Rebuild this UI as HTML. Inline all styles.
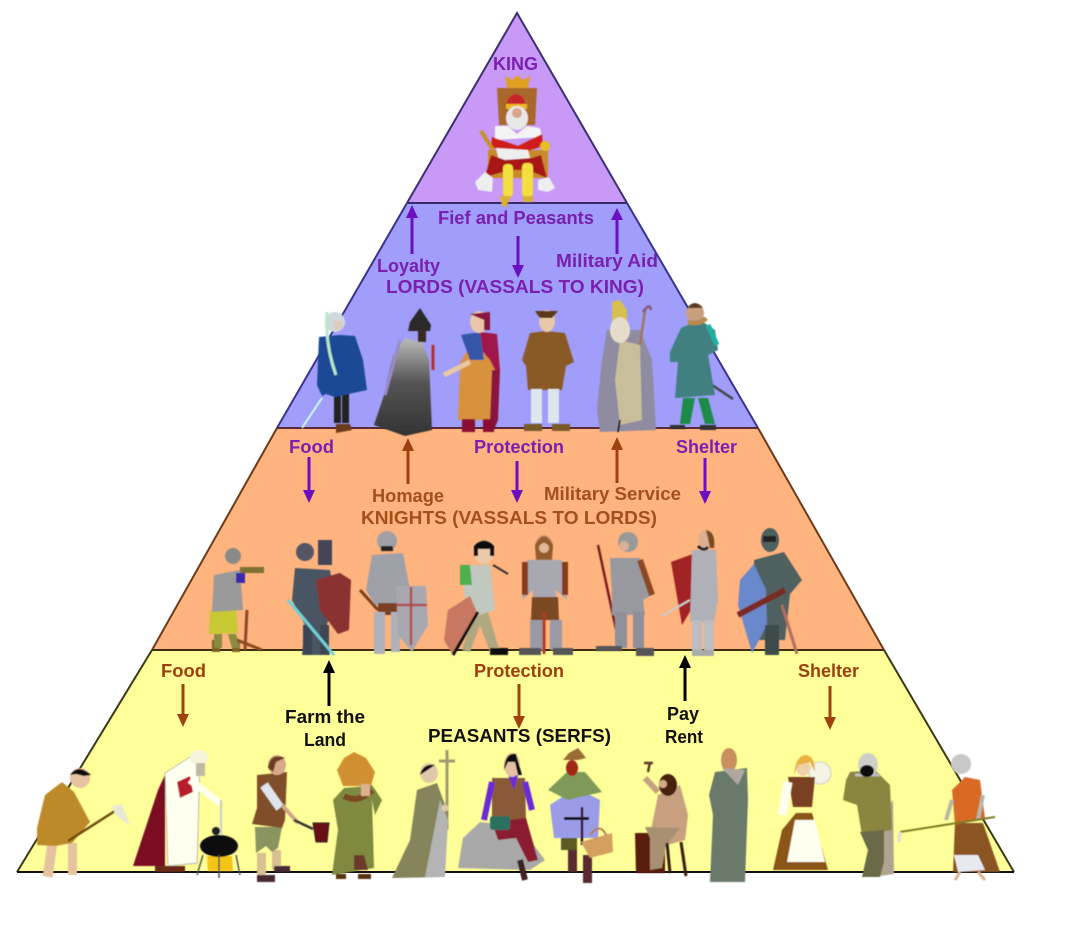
<!DOCTYPE html>
<html><head><meta charset="utf-8"><style>
html,body{margin:0;padding:0;background:#fff;width:1080px;height:942px;overflow:hidden}
svg{display:block}
text{font-family:"Liberation Sans",sans-serif;font-weight:bold;font-size:18px}
.p{fill:#7a1fb0}.b{fill:#a4501c}.r{fill:#9c400f}.k{fill:#111}
</style></head><body>
<svg width="1080" height="942" viewBox="0 0 1080 942" xmlns="http://www.w3.org/2000/svg">
<defs>
<filter id="s" x="-5%" y="-5%" width="110%" height="110%"><feGaussianBlur stdDeviation="0.5"/></filter>
<linearGradient id="mg" x1="0" y1="0" x2="0" y2="1"><stop offset="0" stop-color="#bbb"/><stop offset=".45" stop-color="#555"/><stop offset="1" stop-color="#333"/></linearGradient>
</defs>
<!-- tiers -->
<polygon points="517,13 627,203 407,203" fill="#c899f6"/>
<polygon points="407,203 627,203 758,428 277,428" fill="#a09dfb"/>
<polygon points="277,428 758,428 884,650 152,650" fill="#ffb37e"/>
<polygon points="152,650 884,650 1014,872 17,872" fill="#ffff99"/>
<g fill="none" stroke-width="2">
<path d="M407,203L517,13L627,203" stroke="#3d3070"/>
<path d="M407,203H627" stroke="#352a6a"/>
<path d="M407,203L277,428M627,203L758,428" stroke="#3a3490"/>
<path d="M277,428H758" stroke="#5a2a3a"/>
<path d="M277,428L152,650M758,428L884,650" stroke="#6b3c1a"/>
<path d="M152,650H884" stroke="#3a3010"/>
<path d="M152,650L17,872M884,650L1014,872" stroke="#3a3a18"/>
<path d="M17,872H1014" stroke="#111"/>
</g>
<!-- arrows -->
<g stroke-width="3" fill="none" stroke="#6a10c0">
<path d="M412,216V254M518,236V268M617,218V254M309,457V493M517,461V493M705,458V494"/>
</g>
<g fill="#6a10c0">
<polygon points="412,205 406,218 418,218"/><polygon points="518,278 512,265 524,265"/><polygon points="617,208 611,220 623,220"/>
<polygon points="309,503 303,490 315,490"/><polygon points="517,503 511,490 523,490"/><polygon points="705,504 699,491 711,491"/>
</g>
<g stroke-width="3" fill="none" stroke="#a0420f">
<path d="M408,450V484M617,449V483M183,684V717M519,684V719M830,686V720"/>
</g>
<g fill="#a0420f">
<polygon points="408,438 402,451 414,451"/><polygon points="617,437 611,450 623,450"/>
<polygon points="183,727 177,714 189,714"/><polygon points="519,729 513,716 525,716"/><polygon points="830,730 824,717 836,717"/>
</g>
<path d="M329,672V706M685,667V701" stroke="#000" stroke-width="3"/>
<polygon points="329,660 323,673 335,673" fill="#000"/><polygon points="685,655 679,668 691,668" fill="#000"/>

<g filter="url(#s)">
<!-- KING -->
<polygon points="497,88 537,88 535,125 499,125" fill="#a8682a"/>
<polygon points="505,76 512,80 517,75 523,80 530,76 528,88 507,88" fill="#e0a020"/>
<polygon points="488,150 548,150 548,178 488,178" fill="#c98a2c"/>
<path d="M516,94q-9,1,-10,14h20q-1,-13,-10,-14z" fill="#c8202a"/>
<rect x="506" y="104" width="21" height="5" fill="#f0b820"/>
<ellipse cx="517" cy="118" rx="11" ry="12" fill="#e8e8e8"/><circle cx="517" cy="113" r="5" fill="#d9a58c"/>
<polygon points="495,126 508,126 517,134 527,126 540,128 542,137 495,140" fill="#f4f4f4"/>
<polygon points="492,137 518,146 542,134 543,146 525,152 498,150 491,146" fill="#cf1f1f"/>
<polygon points="496,148 528,150 532,165 500,165" fill="#eee"/>
<polygon points="491,155 505,160 532,158 541,155 547,178 528,170 510,170 485,177" fill="#a81818"/>
<rect x="503" y="164" width="10" height="33" rx="4" fill="#f3e040"/><rect x="522" y="163" width="11" height="34" rx="4" fill="#f3e040"/>
<polygon points="475,182 485,172 493,178 492,192 478,190" fill="#eee"/><polygon points="538,180 549,177 555,188 548,192 538,190" fill="#eee"/>
<polygon points="500,196 511,196 506,207 502,206" fill="#d8b030"/><rect x="523" y="196" width="10" height="6" fill="#d8b030"/>
<circle cx="545" cy="146" r="5" fill="#e8c020"/><path d="M481,131L493,150" stroke="#c8902a" stroke-width="4"/>

<!-- LORDS -->
<!-- 1 -->
<path d="M302,428L322,398" stroke="#cfe" stroke-width="2"/>
<rect x="334" y="393" width="7" height="30" fill="#222"/><rect x="342" y="393" width="7" height="30" fill="#222"/>
<polygon points="336,424 350,424 352,430 336,433" fill="#6b3a1e"/>
<polygon points="319,337 340,335 355,336 363,360 367,390 335,397 326,394 322,396 317,385" fill="#1a4a96"/>
<circle cx="335" cy="322" r="10" fill="#cfd8dc"/><circle cx="338" cy="325" r="5" fill="#dcb"/>
<path d="M327,312Q325,345 336,375" stroke="#b8e8c8" stroke-width="3" fill="none"/>
<!-- 2 -->
<polygon points="374,425 384,395 393,355 405,338 422,342 429,360 432,430 405,436" fill="url(#mg)"/>
<path d="M420,308L431,325L430,331H408L410,322Z" fill="#2b2b2b"/>
<rect x="418" y="330" width="8" height="12" fill="#3a2a20"/>
<path d="M433,345V370" stroke="#b03030" stroke-width="3"/>
<path d="M400,340L385,395" stroke="#9a8ac8" stroke-width="3"/>
<!-- 3 -->
<polygon points="460,363 478,332 497,336 500,370 497,420 458,420" fill="#d8923e"/>
<polygon points="480,332 497,334 500,370 496,372 490,360 477,345" fill="#a0184a"/>
<polygon points="461,335 480,332 484,360 470,360" fill="#3656a8"/>
<polygon points="492,370 500,370 498,420 494,430 490,420" fill="#8a1840"/>
<path d="M470,362L444,375" stroke="#e8c8a0" stroke-width="5"/>
<rect x="462" y="419" width="13" height="13" fill="#8a1030"/><rect x="483" y="419" width="11" height="13" fill="#8a1030"/>
<ellipse cx="479" cy="322" rx="9" ry="11" fill="#e8c8a8"/><path d="M470,314L490,312L490,330L484,330L484,320Z" fill="#8a1840"/>
<!-- 4 -->
<polygon points="530,333 545,331 565,333 574,362 566,366 562,390 528,390 526,366 522,360" fill="#8a5a28"/>
<rect x="531" y="389" width="11" height="34" fill="#dfe6ee"/><rect x="548" y="389" width="11" height="34" fill="#dfe6ee"/>
<rect x="524" y="424" width="18" height="7" fill="#7a5a28"/><rect x="552" y="424" width="18" height="7" fill="#7a5a28"/>
<ellipse cx="547" cy="321" rx="8" ry="11" fill="#e8c8a8"/><path d="M535,311H558L552,318H540Z" fill="#5a3a18"/>
<!-- 5 -->
<polygon points="607,330 640,330 652,360 656,430 600,432 597,410 602,360" fill="#8f8ba0"/>
<polygon points="620,340 640,345 642,420 620,425 615,380" fill="#c8bf9a"/>
<path d="M612,302L620,300L627,310V323H612Z" fill="#d8c050"/>
<ellipse cx="620" cy="330" rx="10" ry="13" fill="#e6dccc"/>
<path d="M640,345L645,310" stroke="#9a7a5a" stroke-width="2.5"/><path d="M643,312Q650,302 651,310" stroke="#8a5a7a" fill="none" stroke-width="2.5"/>
<path d="M620,420L618,432" stroke="#222" stroke-width="2"/>
<!-- 6 -->
<path d="M712,385L733,399" stroke="#444" stroke-width="2.5"/>
<polygon points="681,328 700,320 715,330 718,350 708,355 715,395 675,398 678,362 670,362 670,352" fill="#3f8080"/>
<polygon points="683,398 695,398 690,424 680,424" fill="#1f8a4a"/><polygon points="698,398 708,398 715,424 705,424" fill="#1f8a4a"/>
<rect x="670" y="425" width="15" height="4" fill="#333"/><rect x="700" y="425" width="16" height="5" fill="#333"/>
<circle cx="695" cy="313" r="9" fill="#c8a080"/><path d="M687,308Q695,298 703,308Z" fill="#5a3a20"/>
<path d="M688,322Q700,325 706,318" stroke="#b88a50" stroke-width="5" fill="none"/>
<path d="M708,325L717,345" stroke="#1fb0a0" stroke-width="5"/>

<!-- KNIGHTS -->
<!-- 1 -->
<rect x="212" y="640" width="8" height="12" fill="#7a6020"/><rect x="232" y="640" width="8" height="12" fill="#7a6020"/>
<polygon points="210,610 236,610 238,633 209,634" fill="#c8c830"/>
<polygon points="214,575 240,570 243,610 212,612" fill="#9a9a9a"/>
<polygon points="214,634 222,634 222,648 214,648" fill="#8a8a40"/><polygon points="228,634 236,634 240,648 232,648" fill="#8a8a40"/>
<circle cx="233" cy="556" r="8" fill="#8a8a8a"/>
<rect x="240" y="567" width="24" height="6" fill="#807030"/>
<rect x="236" y="573" width="9" height="10" fill="#3a2ab0"/>
<path d="M247,610L245,650M237,640L262,650" stroke="#8a4a20" stroke-width="3"/>
<!-- 2 -->
<polygon points="295,568 330,570 335,600 325,630 330,655 302,655 305,625 292,600" fill="#4a5562"/>
<rect x="303" y="625" width="9" height="30" fill="#3a4552"/><rect x="320" y="625" width="9" height="30" fill="#3a4552"/>
<circle cx="305" cy="552" r="9" fill="#556"/><rect x="318" y="540" width="14" height="25" fill="#445"/>
<polygon points="316,580 340,573 351,580 349,630 338,634 320,610" fill="#8a3030"/>
<path d="M288,600L334,655" stroke="#70d0d8" stroke-width="3"/>
<!-- 3 -->
<polygon points="372,555 403,553 410,590 398,605 375,605 366,590" fill="#a0a0a8"/>
<rect x="378" y="603" width="20" height="12" fill="#7a4020"/>
<rect x="374" y="612" width="11" height="42" fill="#b0b0b8"/><rect x="391" y="612" width="9" height="40" fill="#b0b0b8"/>
<circle cx="387" cy="541" r="10" fill="#a0a0a8"/><rect x="381" y="546" width="12" height="5" fill="#222"/>
<polygon points="396,586 426,586 428,625 412,652 398,635" fill="#a8a8b0"/>
<path d="M411,587V645M396,605H427" stroke="#b05050" stroke-width="2.5"/>
<path d="M360,590L378,610" stroke="#7a4020" stroke-width="3"/>
<!-- 4 -->
<polygon points="465,565 490,565 495,610 470,618 464,590" fill="#c0c8c0"/>
<polygon points="460,565 470,565 472,585 460,585" fill="#50b050"/>
<polygon points="472,618 488,612 500,652 490,652 480,625 470,652 462,650" fill="#b0a880"/>
<ellipse cx="484" cy="552" rx="10" ry="12" fill="#eac8a8"/><path d="M474,556V546Q484,535 494,546V556H490V549H478V556Z" fill="#111"/>
<polygon points="448,610 470,596 478,615 452,654 444,640" fill="#c87860"/>
<path d="M478,612L453,655" stroke="#111" stroke-width="3"/>
<rect x="490" y="648" width="18" height="7" fill="#111"/>
<path d="M493,565L508,574" stroke="#333" stroke-width="2"/>
<!-- 5 -->
<polygon points="527,560 562,560 567,600 556,590 556,605 533,605 533,590 522,600" fill="#a8a8b0"/>
<path d="M525,562V595M565,562V595" stroke="#8a3a1e" stroke-width="6"/>
<polygon points="532,597 558,597 559,620 531,620" fill="#7a4a20"/>
<rect x="530" y="620" width="13" height="30" fill="#9a9aa6"/><rect x="550" y="620" width="12" height="30" fill="#9a9aa6"/>
<rect x="519" y="648" width="22" height="7" fill="#555"/><rect x="553" y="648" width="20" height="7" fill="#555"/>
<path d="M544,612V654" stroke="#b03a20" stroke-width="3"/>
<ellipse cx="544" cy="547" rx="9" ry="12" fill="#c89878"/><path d="M535,545Q544,528 553,545L552,560H536Z" fill="#8a5020" opacity=".85"/><circle cx="544" cy="548" r="5" fill="#e0b898"/>
<!-- 6 -->
<path d="M598,545L620,648" stroke="#7a1e20" stroke-width="2.5"/>
<polygon points="610,558 640,558 652,595 643,600 645,615 612,615 612,595" fill="#98989f"/>
<path d="M640,560L652,595" stroke="#8a4a20" stroke-width="6"/>
<rect x="615" y="612" width="12" height="36" fill="#8f8f9a"/><rect x="633" y="612" width="11" height="36" fill="#8f8f9a"/>
<rect x="596" y="646" width="26" height="5" fill="#555"/><rect x="636" y="648" width="18" height="8" fill="#555"/>
<circle cx="628" cy="542" r="10" fill="#999"/><circle cx="624" cy="546" r="5" fill="#d8b098"/>
<!-- 7 -->
<polygon points="671,562 693,554 694,605 682,625" fill="#a02420"/>
<polygon points="692,550 716,550 718,600 714,622 690,622" fill="#b0b0b8"/>
<rect x="692" y="620" width="10" height="32" fill="#bcbcc4"/><rect x="704" y="620" width="10" height="32" fill="#bcbcc4"/>
<rect x="692" y="650" width="22" height="6" fill="#aaa"/>
<ellipse cx="706" cy="540" rx="8" ry="10" fill="#dab090"/><path d="M706,530Q716,532 714,548L710,548L708,538Z" fill="#7a4a20"/>
<path d="M698,546Q704,552 708,547" stroke="#222" stroke-width="3" fill="none"/>
<path d="M662,616L690,600" stroke="#ccc" stroke-width="2"/>
<!-- 8 -->
<polygon points="754,560 784,552 802,580 790,594 785,640 756,640" fill="#4f6060"/>
<polygon points="754,564 766,590 767,625 752,653 738,605 740,580" fill="#6a88cc"/>
<path d="M738,615L785,590" stroke="#7a2a20" stroke-width="6"/>
<rect x="765" y="625" width="14" height="30" fill="#3d4c4c"/>
<path d="M782,605L797,654" stroke="#b07060" stroke-width="3"/>
<ellipse cx="770" cy="540" rx="9" ry="12" fill="#4f6060"/><rect x="763" y="536" width="13" height="6" fill="#222"/>

<!-- PEASANTS -->
<!-- 1 -->
<rect x="45" y="843" width="10" height="34" fill="#e6c2a0" transform="rotate(8 50 860)"/><rect x="68" y="843" width="9" height="32" fill="#e6c2a0"/>
<polygon points="45,795 62,782 74,792 90,822 72,843 55,846 37,845 37,828" fill="#bd8a2c"/>
<ellipse cx="80" cy="778" rx="10" ry="10" fill="#e6c2a0"/><path d="M70,775Q78,763 91,775L84,776L76,774Z" fill="#111"/>
<path d="M68,841L115,811" stroke="#6a4a10" stroke-width="2.5"/>
<polygon points="112,806 122,804 130,826 122,820 115,814" fill="#e8e8d8"/>
<!-- 2 -->
<polygon points="158,790 165,775 165,866 133,866" fill="#7a0a24"/>
<polygon points="165,773 190,757 200,762 197,863 168,866" fill="#fffff0" stroke="#999" stroke-width=".7"/>
<polygon points="177,782 190,776 193,792 180,798" fill="#b81a2a"/>
<path d="M190,780L220,803" stroke="#fffff0" stroke-width="7"/>
<ellipse cx="199" cy="758" rx="9" ry="8" fill="#f6f4dc"/><rect x="196" y="763" width="9" height="13" fill="#c0b8a0"/>
<rect x="155" y="866" width="30" height="6" fill="#6b2a14"/>
<path d="M221,800V835" stroke="#ccc" stroke-width="2"/>
<polygon points="207,856 232,856 233,871 208,871" fill="#f4c418"/>
<ellipse cx="219" cy="846" rx="19" ry="11" fill="#111"/><circle cx="216" cy="831" r="4" fill="#222"/>
<path d="M203,855L197,875M236,855L240,875M219,855V878" stroke="#555" stroke-width="1.5"/>
<!-- 3 -->
<rect x="257" y="853" width="9" height="22" fill="#d8c090"/><rect x="272" y="850" width="9" height="20" fill="#d8c090"/>
<polygon points="255,827 282,827 278,848 272,852 266,846 256,853" fill="#8a9460"/>
<polygon points="257,775 287,772 285,820 282,828 252,824 257,808" fill="#80502c"/>
<path d="M264,785L280,808" stroke="#e0e4ec" stroke-width="9"/>
<path d="M282,805L298,823" stroke="#d0a888" stroke-width="4"/>
<ellipse cx="277" cy="765" rx="9" ry="10" fill="#d8a888"/><path d="M268,768Q270,752 285,758L276,762L273,772Z" fill="#6b3e20"/>
<rect x="257" y="875" width="18" height="7" fill="#4a2a30"/><rect x="274" y="866" width="16" height="6" fill="#4a2a30"/>
<path d="M294,820L313,829" stroke="#333" stroke-width="2.5"/>
<polygon points="313,823 329,823 327,842 316,842" fill="#6a0a14" stroke="#222"/>
<!-- 4 -->
<polygon points="337,770 344,758 354,752 366,758 375,772 371,786 343,786" fill="#d09030"/>
<polygon points="344,788 368,786 372,785 382,800 375,815 372,800 374,868 332,875 338,830 333,800" fill="#7f8a40"/>
<path d="M344,796Q358,804 372,790" stroke="#7a4a20" stroke-width="6" fill="none"/>
<rect x="361" y="784" width="9" height="12" fill="#dcb090"/>
<polygon points="354,855 364,855 368,870 354,870" fill="#6a3a2a"/>
<rect x="336" y="874" width="10" height="5" fill="#5a3010"/><rect x="358" y="874" width="13" height="5" fill="#5a3010"/>
<!-- 5 -->
<path d="M447,750V830M439,761H455" stroke="#a09870" stroke-width="3"/>
<polygon points="417,790 437,783 448,813 443,877 392,878 410,840" fill="#86845a"/>
<polygon points="440,800 448,820 445,877 425,877" fill="#b4b4b4"/>
<ellipse cx="429" cy="773" rx="9" ry="10" fill="#e0c8a8"/><path d="M420,775Q423,763 435,765L426,771Z" fill="#111"/>
<circle cx="445" cy="808" r="3.5" fill="#e0c8a8"/>
<!-- 6 -->
<polygon points="458,868 463,838 480,822 505,825 530,840 545,860 530,870" fill="#a8a8a8"/>
<polygon points="492,778 525,778 526,822 492,822" fill="#8a5a38"/>
<path d="M492,782L484,820M525,782L532,810" stroke="#6a2ad8" stroke-width="6"/>
<polygon points="508,775 518,775 514,790" fill="#6a2ad8"/>
<polygon points="492,822 526,818 538,860 528,862 516,838 498,840" fill="#8a1a30"/>
<rect x="490" y="816" width="20" height="14" rx="3" fill="#2a7060"/>
<path d="M520,860L525,880" stroke="#3a2020" stroke-width="6"/>
<ellipse cx="512" cy="765" rx="8" ry="12" fill="#e4c0a0"/><path d="M504,770Q505,752 516,754L522,775H518L515,762L508,762Z" fill="#111"/>
<!-- 7 -->
<polygon points="565,795 590,795 600,800 598,838 554,838 550,805" fill="#9a9ce8"/>
<polygon points="548,790 567,772 585,772 602,792 580,797 568,800" fill="#7f9a58"/>
<polygon points="569,753 578,748 586,758 578,760 563,760" fill="#9a6a30"/>
<ellipse cx="572" cy="768" rx="6" ry="8" fill="#a02818"/>
<rect x="564" y="817" width="25" height="3" fill="#111"/><path d="M582,807V845" stroke="#3a1030" stroke-width="2.5"/>
<rect x="561" y="838" width="16" height="12" fill="#5a5a20"/><rect x="568" y="850" width="9" height="22" fill="#5a2a30"/><rect x="583" y="855" width="9" height="28" fill="#5a2a30"/>
<polygon points="581,842 612,833 613,852 590,858" fill="#d4a060"/><path d="M590,835Q600,822 606,835" stroke="#b08050" fill="none" stroke-width="2"/>
<!-- 8 -->
<polygon points="635,833 665,833 665,873 636,873" fill="#5a1c10"/>
<polygon points="658,795 680,785 688,815 685,840 667,845 650,835" fill="#c8a080"/>
<polygon points="645,827 680,828 666,846 662,868 650,870 650,838" fill="#a89070"/>
<path d="M658,792L645,778" stroke="#c8a080" stroke-width="6"/>
<path d="M648,772L650,762M644,763H653" stroke="#5a3a20" stroke-width="2.5"/>
<ellipse cx="668" cy="785" rx="9" ry="11" fill="#4a2410"/><circle cx="663" cy="784" r="4" fill="#d8a888"/>
<path d="M667,843L670,873M681,842L686,876" stroke="#3a1a08" stroke-width="3"/>
<!-- 9 -->
<polygon points="715,772 747,768 748,800 745,882 710,882 713,815 709,795" fill="#6a7a6a"/>
<ellipse cx="729" cy="760" rx="8" ry="12" fill="#c89060"/><path d="M722,768L745,770L738,785Z" fill="#b0a8a0"/>
<!-- 10 -->
<circle cx="820" cy="773" r="11" fill="#f4f4e4" stroke="#ccc"/>
<polygon points="796,813 812,813 828,870 773,870 782,830" fill="#8a5414"/>
<polygon points="795,820 815,820 825,862 787,862" fill="#fffff0"/>
<polygon points="788,777 815,777 812,807 793,807" fill="#7a4020"/>
<path d="M788,782L782,815" stroke="#fffff0" stroke-width="9"/>
<ellipse cx="803" cy="767" rx="7" ry="9" fill="#f0d0a8"/><path d="M794,775Q796,755 806,755Q815,756 815,772L810,762L798,765Z" fill="#eab040"/>
<!-- 11 -->
<polygon points="885,810 893,800 894,874 880,876" fill="#b0a490"/>
<polygon points="850,772 875,770 890,785 892,830 862,835 857,805 843,800 846,780" fill="#8a8640"/>
<polygon points="860,832 884,830 884,862 880,877 862,877 868,850" fill="#6a6a48"/>
<path d="M855,775H880" stroke="#bbb" stroke-width="3"/>
<ellipse cx="868" cy="765" rx="10" ry="12" fill="#cfcfc8"/><ellipse cx="867" cy="771" rx="7" ry="6" fill="#111"/>
<!-- 12 -->
<polygon points="955,823 983,823 1000,872 953,872" fill="#8a5420"/>
<polygon points="954,855 978,855 985,870 958,872" fill="#e8e8f0"/>
<polygon points="952,790 965,777 980,780 985,818 955,825" fill="#d86a28"/>
<path d="M952,800L946,820M983,795L978,820" stroke="#b8b8a8" stroke-width="4"/>
<ellipse cx="961" cy="764" rx="10" ry="10" fill="#c8c8c8"/>
<path d="M900,832L995,817" stroke="#7a7a20" stroke-width="2"/><path d="M900,832L899,842" stroke="#ddd" stroke-width="3"/>
<path d="M960,872L955,880M978,872L985,880" stroke="#dcb090" stroke-width="3"/>
</g>

<!-- labels -->
<g lengthAdjust="spacingAndGlyphs">
<text class="p" x="493" y="70" textLength="45" lengthAdjust="spacingAndGlyphs">KING</text>
<text class="p" x="438" y="224" textLength="156" lengthAdjust="spacingAndGlyphs">Fief and Peasants</text>
<text class="p" x="377" y="272" textLength="63" lengthAdjust="spacingAndGlyphs">Loyalty</text>
<text class="p" x="556" y="267" textLength="102" lengthAdjust="spacingAndGlyphs">Military Aid</text>
<text class="p" x="386" y="293" textLength="258" lengthAdjust="spacingAndGlyphs">LORDS (VASSALS TO KING)</text>
<text class="p" x="289" y="453" textLength="45" lengthAdjust="spacingAndGlyphs">Food</text>
<text class="p" x="474" y="453" textLength="90" lengthAdjust="spacingAndGlyphs">Protection</text>
<text class="p" x="676" y="453" textLength="61" lengthAdjust="spacingAndGlyphs">Shelter</text>
<text class="b" x="372" y="502" textLength="72" lengthAdjust="spacingAndGlyphs">Homage</text>
<text class="b" x="544" y="500" textLength="137" lengthAdjust="spacingAndGlyphs">Military Service</text>
<text class="b" x="361" y="524" textLength="296" lengthAdjust="spacingAndGlyphs">KNIGHTS (VASSALS TO LORDS)</text>
<text class="r" x="161" y="677" textLength="45" lengthAdjust="spacingAndGlyphs">Food</text>
<text class="r" x="474" y="677" textLength="90" lengthAdjust="spacingAndGlyphs">Protection</text>
<text class="r" x="798" y="677" textLength="61" lengthAdjust="spacingAndGlyphs">Shelter</text>
<text class="k" x="285" y="723" textLength="80" lengthAdjust="spacingAndGlyphs">Farm the</text>
<text class="k" x="304" y="746" textLength="42" lengthAdjust="spacingAndGlyphs">Land</text>
<text class="k" x="428" y="742" textLength="183" lengthAdjust="spacingAndGlyphs">PEASANTS (SERFS)</text>
<text class="k" x="667" y="720" textLength="32" lengthAdjust="spacingAndGlyphs">Pay</text>
<text class="k" x="665" y="743" textLength="38" lengthAdjust="spacingAndGlyphs">Rent</text>
</g>
</svg>
</body></html>
